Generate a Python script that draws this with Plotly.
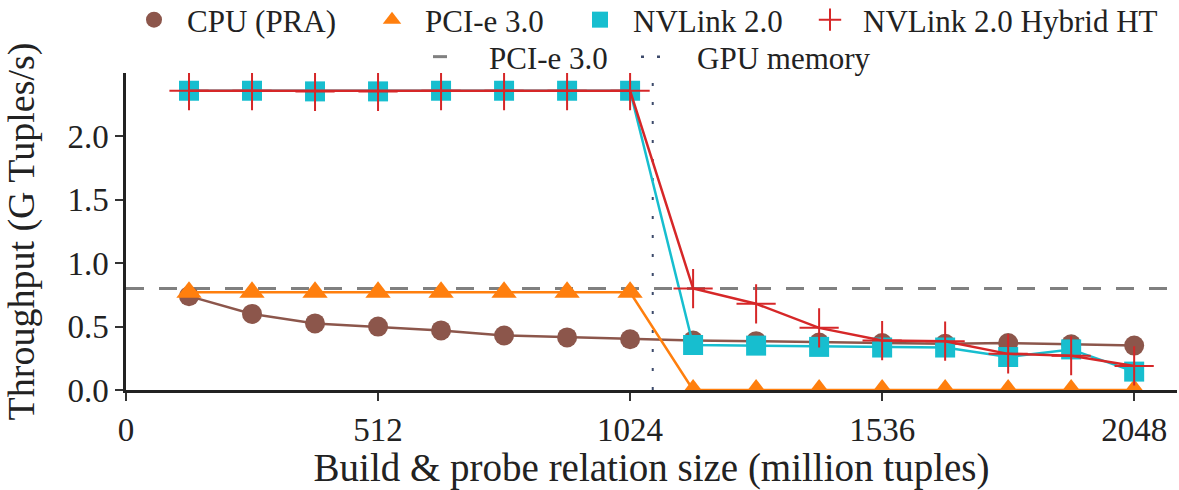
import plotly.graph_objects as go

# ---- data ----
sizes = [128, 256, 384, 512, 640, 768, 896, 1024,
         1152, 1280, 1408, 1536, 1664, 1792, 1920, 2048]
cpu_pra = [0.74, 0.60, 0.525, 0.50, 0.47, 0.43, 0.415, 0.40,
           0.39, 0.385, 0.375, 0.37, 0.365, 0.37, 0.36, 0.35]
pcie3 = [0.77, 0.77, 0.77, 0.77, 0.77, 0.77, 0.77, 0.77,
         0.0, 0.0, 0.0, 0.0, 0.0, 0.0, 0.0, 0.0]
nvlink2 = [2.36, 2.36, 2.355, 2.355, 2.36, 2.36, 2.36, 2.36,
           0.355, 0.35, 0.34, 0.335, 0.335, 0.26, 0.32, 0.145]
nvlink2_hybrid = [2.36, 2.36, 2.355, 2.355, 2.36, 2.36, 2.36, 2.36,
                  0.80, 0.68, 0.49, 0.39, 0.385, 0.285, 0.27, 0.19]
pcie3_bandwidth = 0.8
gpu_memory = 1070

x_ticks = [0, 512, 1024, 1536, 2048]
y_ticks = [0.0, 0.5, 1.0, 1.5, 2.0]
x_range = [0, 2135]
y_range = [0, 2.5]

FONT = "Liberation Serif"
BROWN = "#8c564b"
ORANGE = "#ff7f0e"
CYAN = "#17becf"
RED = "#d62728"
GREY = "#808080"
NAVY = "#3d4a6b"

W, H = 1179, 490
ML, MR, MT, MB = 126, 2, 73, 100
PW, PH = W - ML - MR, H - MT - MB


def px_to_paper_x(px):
    return (px - ML) / PW


def px_to_paper_y(py):
    return (H - MB - py) / PH


series = [
    dict(name="CPU (PRA)", y=cpu_pra, color=BROWN,
         marker=dict(symbol="circle", size=20, color=BROWN), legend="legend"),
    dict(name="PCI-e 3.0", y=pcie3, color=ORANGE,
         marker=dict(symbol="triangle-up", size=22, color=ORANGE), legend="legend2"),
    dict(name="NVLink 2.0", y=nvlink2, color=CYAN,
         marker=dict(symbol="square", size=20, color=CYAN), legend="legend3"),
    dict(name="NVLink 2.0 Hybrid HT", y=nvlink2_hybrid, color=RED,
         marker=dict(symbol="cross-thin", size=28, color=RED,
                     line=dict(color=RED, width=2)), legend="legend4"),
]

fig = go.Figure()

for s in series:
    fig.add_trace(go.Scatter(
        x=sizes, y=s["y"], name=s["name"], mode="lines+markers",
        line=dict(color=s["color"], width=2.5), marker=s["marker"],
        showlegend=False))
for s in series:
    # legend entry: marker only, as in the original key
    fig.add_trace(go.Scatter(
        x=[None], y=[None], name=s["name"], mode="markers",
        marker=s["marker"], legend=s["legend"], showlegend=True))

fig.add_hline(y=pcie3_bandwidth, line=dict(color=GREY, width=3, dash="18px,15px"),
              layer="below")
fig.add_vline(x=gpu_memory, line=dict(color=NAVY, width=2, dash="3px,16px"),
              layer="below")
fig.add_trace(go.Scatter(
    x=[None], y=[None], name="PCI-e 3.0", mode="lines",
    line=dict(color=GREY, width=3, dash="14px,200px"), legend="legend5"))
fig.add_trace(go.Scatter(
    x=[None], y=[None], name="GPU memory", mode="lines",
    line=dict(color=NAVY, width=2.5, dash="3px,13px,3px,200px"), legend="legend6"))

axis_common = dict(
    showgrid=False, zeroline=False, showline=True, linecolor="#222222",
    ticks="outside", ticklen=8, tickwidth=1.5, tickcolor="#333333",
    tickfont=dict(family=FONT, size=33, color="#222222"),
)

# legend entries: (text start x, row centre y, symbol width)
legend_pos = {
    "legend": (190, 20, 56), "legend2": (428, 20, 56), "legend3": (636, 20, 56),
    "legend4": (866, 20, 56), "legend5": (492, 57, 51), "legend6": (700, 57, 51),
}

legends = {}
for key, (tx, ty, iw) in legend_pos.items():
    legends[key] = dict(
        orientation="h", x=px_to_paper_x(tx - iw - 13), xanchor="left",
        y=px_to_paper_y(ty), yanchor="middle",
        font=dict(family=FONT, size=31, color="#222222"),
        bgcolor="rgba(0,0,0,0)", itemwidth=iw)

fig.update_layout(
    width=W, height=H,
    margin=dict(l=ML, r=MR, t=MT, b=MB, autoexpand=False),
    paper_bgcolor="white", plot_bgcolor="white",
    font=dict(family=FONT, color="#222222"),
    xaxis=dict(**axis_common, range=x_range, tickvals=x_ticks,
               ticktext=[str(v) for v in x_ticks], linewidth=3,
               title=dict(text="Build & probe relation size (million tuples)",
                          font=dict(family=FONT, size=39), standoff=4)),
    yaxis=dict(**axis_common, range=y_range, tickvals=y_ticks,
               ticktext=[f"{v:.1f}" for v in y_ticks], linewidth=2.5,
               title=dict(text="Throughput (G Tuples/s)",
                          font=dict(family=FONT, size=38), standoff=24)),
    showlegend=True,
    **legends,
)

fig.write_html("out.html")
